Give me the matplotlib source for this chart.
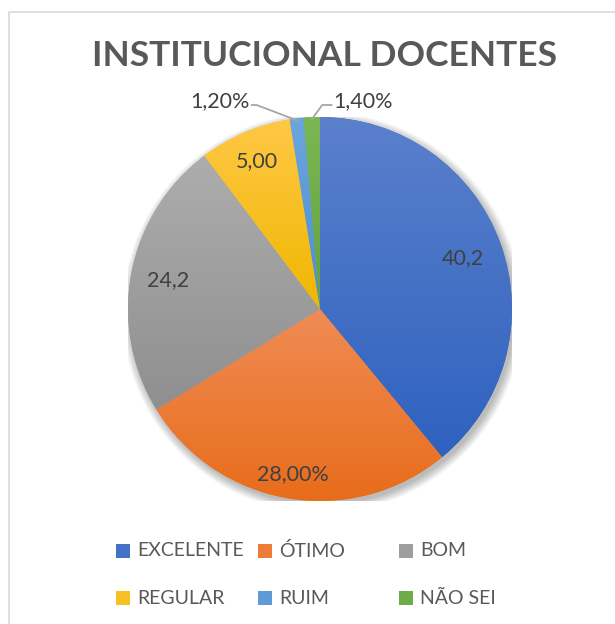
import numpy as np
import matplotlib
matplotlib.use("Agg")
import matplotlib.pyplot as plt
from matplotlib.patches import Rectangle, Circle
from matplotlib.lines import Line2D
from matplotlib.colors import to_rgb

categories = ["EXCELENTE", "ÓTIMO", "BOM", "REGULAR", "RUIM", "NÃO SEI"]
# slice sizes as drawn (the REGULAR slice is drawn larger than its printed label)
values = [40.2, 28.0, 24.2, 8.0, 1.2, 1.4]
value_labels = ["40,2", "28,00%", "24,2", "5,00", "1,20%", "1,40%"]
colors = ["#4572C8", "#F07C33", "#A5A5A5", "#FFC21F", "#5B9BD5", "#70AD47"]
grad_top = ["#5B80CC", "#F08C55", "#ADADAD", "#FFC845", "#6CA6DD", "#7CB655"]
grad_bot = ["#2E62BF", "#E86C1A", "#8F8F8F", "#EFB700", "#4D8ECF", "#62A23B"]
title = "INSTITUCIONAL DOCENTES"

W, H = 615, 624
fig = plt.figure(figsize=(W / 100, H / 100), dpi=100)
fig.patch.set_facecolor("white")

plt.rcParams["font.family"] = ["Lato", "DejaVu Sans"]
txt = "#595959"
lab = "#404040"

def fx(px):
    return px / W

def fy(py):
    return 1 - py / H

# chart frame
fig.add_artist(Line2D([fx(8.5), fx(8.5), fx(615)], [fy(624), fy(11.5), fy(11.5)],
                      color="#D9D9D9", lw=1.2, transform=fig.transFigure))

# pie axes
cx, cy, r = 320, 309, 192
ax = fig.add_axes([fx(cx - r), fy(cy + r), 2 * r / W, 2 * r / H])
wedges, _ = ax.pie(values, colors=colors, startangle=90, counterclock=False,
                   radius=1, wedgeprops=dict(edgecolor="none", linewidth=0))

# soft shadow
off = np.array([2.5, -3.5]) / r
for k in range(8):
    ax.add_patch(Circle(tuple(off), 1.0 + k * 0.006, facecolor="black",
                        edgecolor="none", alpha=0.035, zorder=0.1))

# vertical gradients per wedge
for w, c1, c2 in zip(wedges, grad_top, grad_bot):
    verts = w.get_path().vertices
    x0, x1 = verts[:, 0].min(), verts[:, 0].max()
    y0, y1 = verts[:, 1].min(), verts[:, 1].max()
    t = np.linspace(0, 1, 256)[:, None, None]
    img = (1 - t) * np.array(to_rgb(c1))[None, None, :] + t * np.array(to_rgb(c2))[None, None, :]
    img = np.repeat(img, 2, axis=1)
    im = ax.imshow(img, extent=[x0, x1, y0, y1], origin="upper", aspect="auto",
                   zorder=2, interpolation="bilinear")
    im.set_clip_path(w)

ax.set_xlim(-1, 1)
ax.set_ylim(-1, 1)
ax.set_aspect("equal")
ax.axis("off")

# inside labels
dists = [0.79, 0.87, 0.805, 0.84]
for i in range(4):
    w = wedges[i]
    th = np.deg2rad((w.theta1 + w.theta2) / 2)
    ax.text(dists[i] * np.cos(th), dists[i] * np.sin(th), value_labels[i],
            ha="center", va="center", fontsize=15.5, color=lab, zorder=5)

# outside labels with leader lines
ly = (cy - 101) / r
ly_line = (cy - 105) / r
for i, side, lx, elbow in [(4, "right", -0.365, -0.33), (5, "left", 0.07, 0.012)]:
    w = wedges[i]
    th = np.deg2rad((w.theta1 + w.theta2) / 2)
    ex, ey = np.cos(th) * 0.99, np.sin(th) * 0.99
    if side == "right":
        ax.plot([ex, elbow, lx + 0.01], [ey, ly_line, ly_line], color="#A6A6A6",
                lw=1.3, clip_on=False, zorder=4)
        ax.text(lx, ly, value_labels[i], ha="right", va="center", fontsize=15.5,
                color=lab)
    else:
        ax.plot([ex, elbow, lx - 0.01], [ey, ly_line, ly_line], color="#A6A6A6",
                lw=1.3, clip_on=False, zorder=4)
        ax.text(lx, ly, value_labels[i], ha="left", va="center", fontsize=15.5,
                color=lab)

# title
fig.text(fx(324), fy(56), title, ha="center", va="center", fontsize=25.5,
         fontweight="bold", color=txt)

# legend (3 columns x 2 rows)
col_x = [116, 258, 399]
row_y = [551, 598]
for k, (cat, c1, c2) in enumerate(zip(categories, grad_top, grad_bot)):
    x0 = col_x[k % 3]
    y0 = row_y[k // 3]
    mid = tuple((np.array(to_rgb(c1)) + np.array(to_rgb(c2))) / 2)
    fig.add_artist(Rectangle((fx(x0), fy(y0 + 7)), 14 / W, 14 / H, facecolor=mid,
                             edgecolor="none", transform=fig.transFigure))
    fig.text(fx(x0 + 21), fy(y0), cat, ha="left", va="center", fontsize=14, color=txt)

fig.savefig("out.png", dpi=100, facecolor="white")
